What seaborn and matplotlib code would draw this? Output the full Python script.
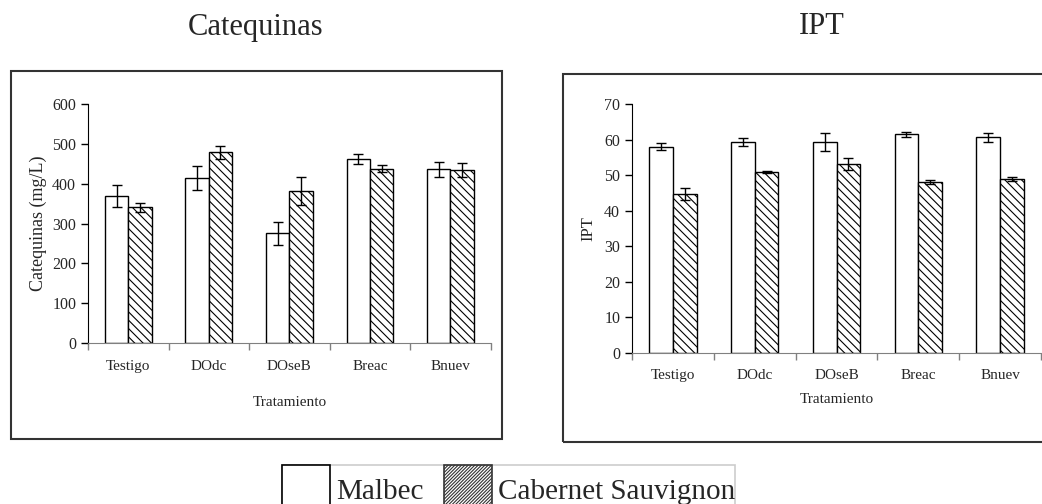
import matplotlib
matplotlib.use('Agg')

import matplotlib.pyplot as plt
import seaborn as sns
import pandas as pd
import numpy as np
from matplotlib.patches import Rectangle, Patch

tratamientos = ["Testigo", "DOdc", "DOseB", "Breac", "Bnuev"]
variedades = ["Malbec", "Cabernet Sauvignon"]

cat_malbec = [369, 414, 275, 462, 436]
cat_cabernet = [341, 479, 382, 438, 434]
cat_err_malbec = [27, 31, 30, 13, 19]
cat_err_cabernet = [11, 16, 35, 8, 17]

ipt_malbec = [58.1, 59.4, 59.4, 61.5, 60.7]
ipt_cabernet = [44.7, 50.9, 53.2, 48.2, 49.0]
ipt_err_malbec = [1.0, 1.2, 2.6, 0.6, 1.3]
ipt_err_cabernet = [1.6, 0.3, 1.7, 0.6, 0.6]

sns.set_style("white")
plt.rcParams['font.family'] = ['Liberation Serif', 'DejaVu Serif']
plt.rcParams['hatch.linewidth'] = 0.8
plt.rcParams['hatch.color'] = 'black'

W, H = 1042, 504
fig = plt.figure(figsize=(W / 100, H / 100), dpi=100)


def make_df(malbec, cabernet):
    return pd.DataFrame({
        "Tratamiento": tratamientos * 2,
        "Variedad": [variedades[0]] * 5 + [variedades[1]] * 5,
        "valor": list(malbec) + list(cabernet),
    })


def draw_panel(rect, malbec, cabernet, err_m, err_c, ymax, ystep, ylabel,
               ylab_x, xlab_y, ylab_size):
    ax = fig.add_axes(rect)
    df = make_df(malbec, cabernet)
    sns.barplot(data=df, x="Tratamiento", y="valor", hue="Variedad",
                palette=["white", "white"], edgecolor="black", linewidth=1,
                width=0.58, errorbar=None, legend=False, saturation=1, ax=ax)
    for bar in ax.containers[1]:
        bar.set_hatch('\\\\\\\\')

    for cont, errs in zip(ax.containers, [err_m, err_c]):
        xs = [b.get_x() + b.get_width() / 2 for b in cont]
        ys = [b.get_height() for b in cont]
        ax.errorbar(xs, ys, yerr=errs, fmt='none', ecolor='black',
                    elinewidth=1, capsize=3.5, capthick=1, zorder=5)

    ax.set_ylim(0, ymax)
    ax.set_yticks(np.arange(0, ymax + 1, ystep))
    ax.set_xlim(-0.5, 4.5)
    ax.set_xticks(np.arange(-0.5, 5, 1), [""] * 6)
    ax.set_xticks(range(5), tratamientos, minor=True)
    ax.tick_params(axis='x', which='major', length=5, direction='out',
                   color='#808080', width=1, bottom=True)
    ax.tick_params(axis='x', which='minor', length=0, pad=12, labelsize=11)
    ax.tick_params(axis='y', length=5, direction='out', width=1, left=True,
                   pad=3.5, labelsize=11.5, color='black')
    sns.despine(ax=ax)
    ax.spines['bottom'].set_color('#808080')
    ax.spines['left'].set_color('black')

    ax.set_ylabel(ylabel, fontsize=ylab_size)
    ax.yaxis.label.set_va('center')
    ax.yaxis.set_label_coords(ylab_x, 0.5)
    ax.set_xlabel("Tratamiento", fontsize=11)
    ax.xaxis.label.set_va('center')
    ax.xaxis.set_label_coords(0.5, xlab_y)
    return ax


# left panel: Catequinas
lx0, lx1, ly0, ly1 = 88, 490.7, 104, 343
draw_panel([lx0 / W, 1 - ly1 / H, (lx1 - lx0) / W, (ly1 - ly0) / H],
           cat_malbec, cat_cabernet, cat_err_malbec, cat_err_cabernet,
           600, 100, "Catequinas (mg/L)",
           -50 / (lx1 - lx0), -60 / (ly1 - ly0), 13)

# right panel: IPT
rx0, rx1, ry0, ry1 = 632, 1041, 104.3, 352.7
draw_panel([rx0 / W, 1 - ry1 / H, (rx1 - rx0) / W, (ry1 - ry0) / H],
           ipt_malbec, ipt_cabernet, ipt_err_malbec, ipt_err_cabernet,
           70, 10, "IPT",
           -44 / (rx1 - rx0), -47 / (ry1 - ry0), 12)

# outer frames
fig.patches.append(Rectangle((11 / W, 1 - 439 / H), (502 - 11) / W, (439 - 71) / H,
                             transform=fig.transFigure, fill=False,
                             edgecolor='#333333', lw=1.5))
fig.patches.append(Rectangle((562.5 / W, 1 - 442.3 / H), (1060 - 562.5) / W,
                             (442.3 - 74.3) / H, transform=fig.transFigure,
                             fill=False, edgecolor='#333333', lw=1.5))

fig.text(256 / W, 1 - 27 / H, "Catequinas", fontsize=22, ha='center', va='center')
fig.text(822 / W, 1 - 27 / H, "IPT", fontsize=22, ha='center', va='center')

handles = [Patch(facecolor='white', edgecolor='black', linewidth=1.2),
           Patch(facecolor='white', edgecolor='#333333', linewidth=1.2,
                 hatch='//////////')]
leg = fig.legend(handles, variedades, loc='upper left',
                 bbox_to_anchor=(282 / W, 1 - 465 / H), ncol=2, fontsize=21,
                 frameon=True, fancybox=False, edgecolor='#c0c0c0', borderpad=0,
                 borderaxespad=0, handlelength=1.65, handleheight=2.2,
                 handletextpad=0.2, columnspacing=0.7)
leg.get_frame().set_linewidth(1.2)

fig.savefig("out.png", dpi=100)
